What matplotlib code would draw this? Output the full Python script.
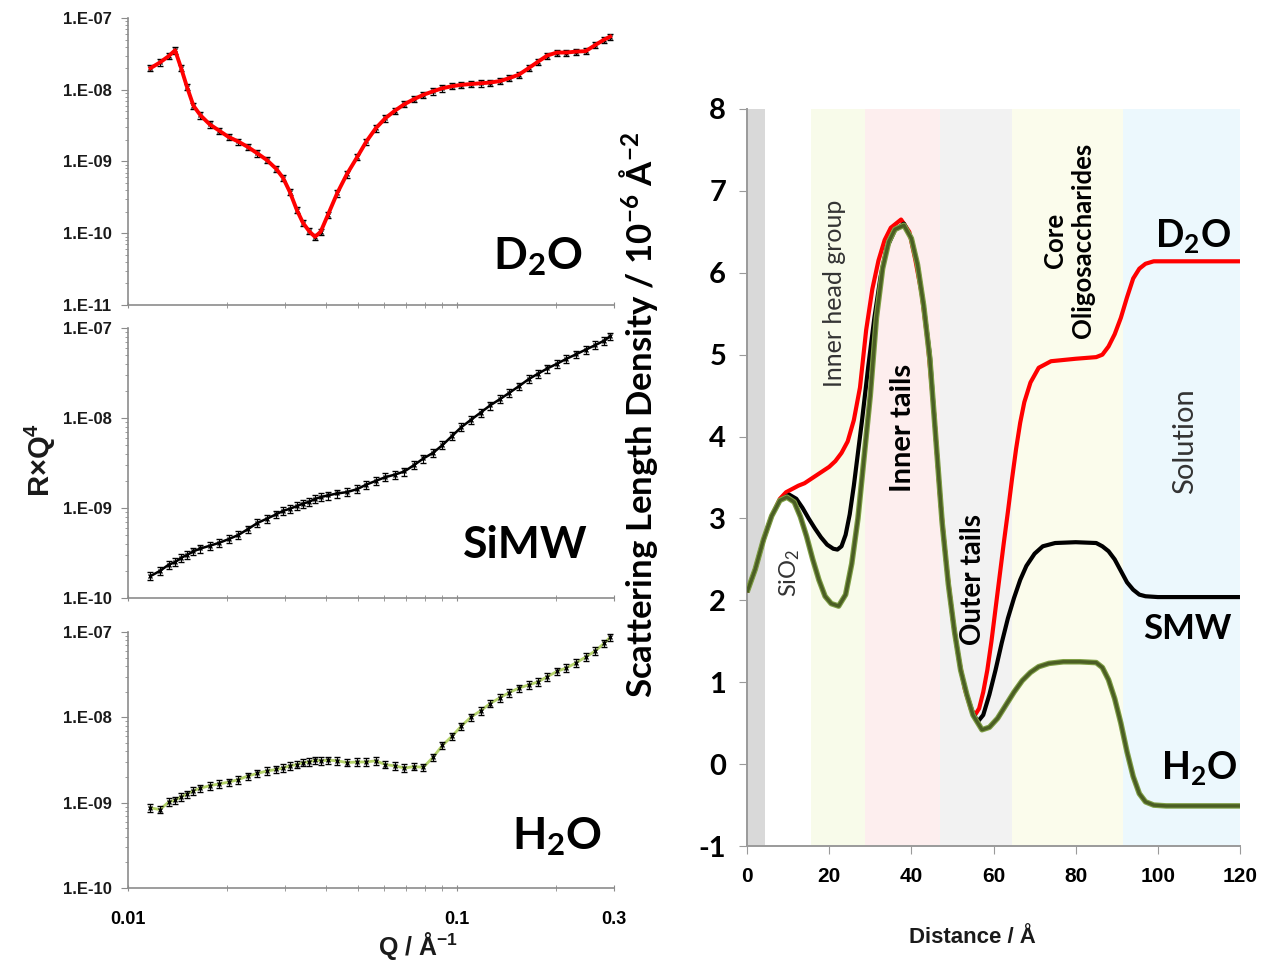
import numpy as np
import matplotlib
matplotlib.use('Agg')
import matplotlib.pyplot as plt
from matplotlib.ticker import LogLocator, FuncFormatter, NullFormatter, FixedLocator

plt.rcParams['font.family'] = 'Liberation Sans'
plt.rcParams['font.weight'] = 'bold'
plt.rcParams['mathtext.default'] = 'regular'
plt.rcParams['axes.unicode_minus'] = False

# ---------------- reflectivity data (R x Q^4) ----------------
q = [0.0117, 0.0125, 0.0133, 0.0139, 0.0145, 0.0151, 0.0158, 0.0166, 0.0177, 0.0189,
     0.0202, 0.0216, 0.0231, 0.0247, 0.0264, 0.0282, 0.0296, 0.0310, 0.0326, 0.0340,
     0.0355, 0.0370, 0.0385, 0.0405, 0.0432, 0.0462, 0.0497, 0.0530, 0.0566, 0.0605,
     0.0647, 0.0692, 0.0740, 0.0790, 0.0845, 0.0903, 0.0965, 0.103, 0.110, 0.118,
     0.126, 0.135, 0.144, 0.154, 0.165, 0.176, 0.188, 0.201, 0.215, 0.230,
     0.246, 0.263, 0.280, 0.292]

rq4_d2o = [2.0e-8, 2.4e-8, 2.95e-8, 3.55e-8, 2.0e-8, 1.1e-8, 6.0e-9, 4.4e-9, 3.3e-9, 2.7e-9,
           2.2e-9, 1.9e-9, 1.6e-9, 1.3e-9, 1.05e-9, 7.9e-10, 5.9e-10, 3.8e-10, 2.1e-10, 1.4e-10,
           1.07e-10, 8.9e-11, 1.05e-10, 1.8e-10, 3.6e-10, 6.6e-10, 1.15e-9, 1.9e-9, 2.9e-9, 4.0e-9,
           5.1e-9, 6.3e-9, 7.4e-9, 8.5e-9, 9.5e-9, 1.05e-8, 1.12e-8, 1.17e-8, 1.2e-8, 1.23e-8,
           1.26e-8, 1.32e-8, 1.45e-8, 1.62e-8, 2.0e-8, 2.45e-8, 3.0e-8, 3.3e-8, 3.3e-8, 3.4e-8,
           3.45e-8, 4.2e-8, 5.0e-8, 5.5e-8]

rq4_simw = [1.75e-10, 2.0e-10, 2.35e-10, 2.5e-10, 2.8e-10, 3.0e-10, 3.3e-10, 3.55e-10, 3.8e-10, 4.1e-10,
            4.5e-10, 5.0e-10, 5.8e-10, 6.8e-10, 7.6e-10, 8.5e-10, 9.3e-10, 9.8e-10, 1.05e-9, 1.12e-9,
            1.17e-9, 1.26e-9, 1.32e-9, 1.38e-9, 1.45e-9, 1.5e-9, 1.62e-9, 1.82e-9, 2.0e-9, 2.2e-9,
            2.35e-9, 2.55e-9, 3.0e-9, 3.55e-9, 4.1e-9, 5.0e-9, 6.3e-9, 7.9e-9, 9.5e-9, 1.15e-8,
            1.38e-8, 1.62e-8, 1.9e-8, 2.25e-8, 2.7e-8, 3.1e-8, 3.55e-8, 4.0e-8, 4.55e-8, 5.1e-8,
            5.75e-8, 6.45e-8, 7.25e-8, 8.1e-8]

rq4_h2o = [8.7e-10, 8.3e-10, 1.02e-9, 1.07e-9, 1.17e-9, 1.26e-9, 1.38e-9, 1.48e-9, 1.58e-9, 1.66e-9,
           1.74e-9, 1.86e-9, 2.05e-9, 2.2e-9, 2.35e-9, 2.45e-9, 2.55e-9, 2.7e-9, 2.8e-9, 2.95e-9,
           3.0e-9, 3.15e-9, 3.1e-9, 3.15e-9, 3.1e-9, 2.95e-9, 3.0e-9, 3.0e-9, 3.1e-9, 2.8e-9,
           2.7e-9, 2.55e-9, 2.65e-9, 2.6e-9, 3.4e-9, 4.7e-9, 6.0e-9, 7.9e-9, 1.0e-8, 1.2e-8,
           1.45e-8, 1.7e-8, 1.95e-8, 2.2e-8, 2.4e-8, 2.6e-8, 3.0e-8, 3.45e-8, 3.8e-8, 4.35e-8,
           5.1e-8, 6.0e-8, 7.4e-8, 8.7e-8]

# ---------------- SLD profiles ----------------
dist_d2o = [0, 2, 4, 6, 8, 9.5, 11, 12.5, 14, 15.5, 17, 18.5, 20, 21.5, 23, 24.5, 26, 27.5, 29,
            30.5, 32, 33.5, 35, 37.5, 39.5, 41, 42.5, 44, 45.5, 47, 48.5, 50, 51.5, 53, 54.5,
            55.5, 56.5, 57.5, 58.5, 59.5, 60.5, 61.5, 62.5, 63.5, 64.5, 65.5, 66.5, 67.5, 69,
            71, 74, 80, 85, 86.5, 88, 89.5, 91, 92.5, 94, 95.5, 97, 99, 120]
sld_d2o = [2.10, 2.38, 2.74, 3.03, 3.24, 3.32, 3.36, 3.40, 3.43, 3.48, 3.53, 3.58, 3.63, 3.70,
           3.80, 3.94, 4.20, 4.60, 5.30, 5.80, 6.15, 6.40, 6.55, 6.65, 6.50, 6.15, 5.75, 5.15,
           4.30, 3.25, 2.45, 1.80, 1.30, 0.92, 0.67, 0.60, 0.68, 0.88, 1.15, 1.50, 1.90, 2.30,
           2.70, 3.08, 3.48, 3.85, 4.17, 4.42, 4.66, 4.84, 4.92, 4.95, 4.97, 5.00, 5.10, 5.25,
           5.45, 5.70, 5.93, 6.05, 6.11, 6.14, 6.14]

dist_smw = [0, 2, 4, 6, 8, 10.3, 12, 13.5, 15, 16.5, 18, 19.5, 21, 22, 23, 24, 25, 26, 27, 28,
            29.5, 31, 32.5, 34, 36, 38.2, 40, 41.5, 43, 44.5, 46, 47.5, 49, 50.5, 52, 53.5, 55,
            56.2, 57.5, 59, 60.5, 62, 63.5, 65, 66.5, 68, 70, 72, 75, 80, 85, 86.5, 88, 89.5,
            91, 92.5, 94, 95.5, 97, 100, 120]
sld_smw = [2.10, 2.38, 2.74, 3.03, 3.22, 3.29, 3.24, 3.13, 3.00, 2.88, 2.77, 2.68, 2.63, 2.62,
           2.66, 2.80, 3.05, 3.40, 3.80, 4.20, 4.85, 5.45, 5.95, 6.30, 6.52, 6.60, 6.42, 6.10,
           5.60, 5.00, 3.95, 2.95, 2.20, 1.62, 1.15, 0.85, 0.62, 0.52, 0.60, 0.85, 1.15, 1.48,
           1.78, 2.03, 2.25, 2.42, 2.57, 2.66, 2.70, 2.71, 2.70, 2.66, 2.60, 2.50, 2.36, 2.22,
           2.13, 2.07, 2.05, 2.04, 2.04]

dist_h2o = [0, 2, 4, 6, 8, 9.7, 11.5, 13, 14.5, 16, 17.5, 19, 20.5, 22.3, 24, 25.5, 27, 28.5,
            30, 31.5, 33, 34.5, 36, 38.2, 40, 41.5, 43, 44.5, 46, 47.5, 49, 50.5, 52, 53.5,
            55, 57.2, 59, 61, 63, 65, 67, 69, 71, 73.5, 77, 81, 85, 86.5, 88, 89.5, 91, 92.5,
            94, 95.5, 97, 99, 102, 120]
sld_h2o = [2.10, 2.38, 2.74, 3.03, 3.22, 3.26, 3.20, 3.02, 2.78, 2.50, 2.25, 2.05, 1.96, 1.93,
           2.07, 2.45, 3.00, 3.75, 4.50, 5.45, 6.05, 6.38, 6.53, 6.58, 6.42, 6.10, 5.60, 4.95,
           3.95, 2.95, 2.20, 1.62, 1.15, 0.85, 0.60, 0.42, 0.45, 0.56, 0.72, 0.88, 1.02, 1.12,
           1.19, 1.23, 1.25, 1.25, 1.24, 1.18, 1.03, 0.80, 0.50, 0.15, -0.15, -0.36, -0.46,
           -0.50, -0.51, -0.51]

# layer regions behind the profiles
band_edges = [(0, 4.4), (15.5, 28.7), (28.7, 47), (47, 64.5), (64.5, 91.5), (91.5, 120)]
band_colors = ['#d9d9d9', '#f8fbea', '#fdeeee', '#f2f2f2', '#fbfcec', '#ecf8fd']

fig = plt.figure(figsize=(12.64, 9.67), dpi=100)
fig.patch.set_facecolor('white')

spine_grey = '#8c8c8c'


def style_log(ax, ylim, labels):
    ax.set_xscale('log')
    ax.set_yscale('log')
    ax.set_xlim(0.01, 0.3)
    ax.set_ylim(*ylim)
    for s in ['top', 'right']:
        ax.spines[s].set_visible(False)
    for s in ['left', 'bottom']:
        ax.spines[s].set_color(spine_grey)
        ax.spines[s].set_linewidth(1.2)
    decades = [10.0 ** e for e in range(int(round(np.log10(ylim[0]))), int(round(np.log10(ylim[1]))) + 1)]
    ax.yaxis.set_major_locator(FixedLocator(decades))
    ax.yaxis.set_minor_locator(LogLocator(base=10, subs=np.arange(2, 10), numticks=12))
    ax.yaxis.set_major_formatter(FuncFormatter(lambda v, p: '1.E-%02d' % round(-np.log10(v))))
    ax.yaxis.set_minor_formatter(NullFormatter())
    ax.xaxis.set_major_locator(FixedLocator([0.01, 0.1, 0.3]))
    ax.xaxis.set_minor_locator(LogLocator(base=10, subs=np.arange(2, 10), numticks=12))
    ax.xaxis.set_minor_formatter(NullFormatter())
    if labels:
        ax.set_xticklabels(['0.01', '0.1', '0.3'])
    else:
        ax.set_xticklabels([])
    ax.tick_params(axis='y', which='major', direction='out', length=5, color=spine_grey,
                   labelsize=12, pad=7, labelcolor='#1a1a1a')
    ax.tick_params(axis='y', which='minor', direction='out', length=2.5, color=spine_grey)
    ax.tick_params(axis='x', which='both', direction='inout', length=5, color=spine_grey,
                   labelsize=13, pad=14)


def plot_data(ax, yvals):
    y = np.array(yvals)
    ax.errorbar(q, y, yerr=0.1 * y, fmt='x', ms=3, mew=1.0, color='k', ecolor='k',
                elinewidth=0.8, capsize=2, capthick=0.8, zorder=3)


ax_top = fig.add_axes([0.1013, 0.6846, 0.3845, 0.2968])
ax_mid = fig.add_axes([0.1013, 0.3816, 0.3845, 0.2792])
ax_bot = fig.add_axes([0.1013, 0.0817, 0.3845, 0.2647])

style_log(ax_top, (1e-11, 1e-7), False)
style_log(ax_mid, (1e-10, 1e-7), False)
style_log(ax_bot, (1e-10, 1e-7), True)

plot_data(ax_top, rq4_d2o)
ax_top.plot(q, rq4_d2o, color='#ff0000', lw=2.8, zorder=4)

plot_data(ax_mid, rq4_simw)
ax_mid.plot(q, rq4_simw, color='k', lw=1.8, zorder=4)

ax_bot.plot(q, rq4_h2o, color='#b5d36b', lw=2.0, zorder=2)
plot_data(ax_bot, rq4_h2o)

big = dict(family='Lato', weight='bold', ha='center', va='center', color='k')
ax_top.text(0.844, 0.17, 'D$_2$O', transform=ax_top.transAxes, fontsize=32, **big)
ax_mid.text(0.817, 0.196, 'SiMW', transform=ax_mid.transAxes, fontsize=32, **big)
ax_bot.text(0.883, 0.20, 'H$_2$O', transform=ax_bot.transAxes, fontsize=32, **big)

fig.text(40 / 1264, 1 - 460 / 967, 'R×Q$^4$', rotation=90, ha='center', va='center',
         fontsize=21, weight='bold', color='#1a1a1a')
fig.text(418 / 1264, 1 - 946 / 967, 'Q / Å$^{-1}$', ha='center', va='center',
         fontsize=18, weight='bold', color='#1a1a1a')

# ---------------- SLD panel ----------------
ax_r = fig.add_axes([0.591, 0.1251, 0.390, 0.7622])
ax_r.set_xlim(0, 120)
ax_r.set_ylim(-1, 8)
for (x0, x1), c in zip(band_edges, band_colors):
    ax_r.axvspan(x0, x1, color=c, lw=0, zorder=0)

ax_r.plot(dist_d2o, sld_d2o, color='#ff0000', lw=3, zorder=3, solid_capstyle='butt')
ax_r.plot(dist_smw, sld_smw, color='k', lw=3, zorder=4, solid_capstyle='butt')
ax_r.plot(dist_h2o, sld_h2o, color='#7f9f45', lw=4, zorder=5, solid_capstyle='butt')
ax_r.plot(dist_h2o, sld_h2o, color='#4b5e24', lw=2.4, zorder=6, solid_capstyle='butt')

for s in ['top', 'right']:
    ax_r.spines[s].set_visible(False)
for s in ['left', 'bottom']:
    ax_r.spines[s].set_color('#9a9a9a')
    ax_r.spines[s].set_linewidth(1.4)
ax_r.set_xticks(np.arange(0, 121, 20))
ax_r.set_yticks(np.arange(-1, 9, 1))
ax_r.tick_params(axis='x', direction='out', length=6, color='#9a9a9a', labelsize=15, pad=9)
ax_r.tick_params(axis='y', direction='out', length=6, color='#9a9a9a', pad=9)
for lbl in ax_r.get_yticklabels():
    lbl.set_family('Lato')
    lbl.set_fontsize(21)
    lbl.set_fontweight('bold')

ax_r.set_ylabel('Scattering Length Density / 10$^{-6}$ Å$^{-2}$', family='Lato',
                fontsize=25, weight='bold')
ax_r.yaxis.set_label_coords(-0.176, 0.585)
ax_r.set_xlabel('Distance / Å', fontsize=16, weight='bold', color='#1a1a1a')
ax_r.xaxis.set_label_coords(0.458, -0.11)

thin = dict(family='Lato', weight='normal', rotation=90, ha='center', va='center',
            color='#333333')
ax_r.text(10.5, 2.33, 'SiO$_2$', fontsize=17, **thin)
ax_r.text(21.4, 5.75, 'Inner head group', fontsize=18, **thin)
ax_r.text(106.6, 3.94, 'Solution', fontsize=21, **thin)

bold_lbl = dict(family='Lato', weight='bold', rotation=90, ha='center', va='center',
                color='k')
ax_r.text(37.9, 4.1, 'Inner tails', fontsize=21, **bold_lbl)
ax_r.text(55.0, 2.25, 'Outer tails', fontsize=20, **bold_lbl)
ax_r.text(78.3, 6.4, 'Core\nOligosaccharides', fontsize=18.5, multialignment='center',
          linespacing=1.2, **bold_lbl)

ax_r.text(108.5, 6.45, 'D$_2$O', fontsize=27, **big)
ax_r.text(107.3, 1.65, 'SMW', fontsize=25, **big)
ax_r.text(110.0, -0.05, 'H$_2$O', fontsize=27, **big)

fig.savefig('out.png', dpi=100, facecolor='white')
